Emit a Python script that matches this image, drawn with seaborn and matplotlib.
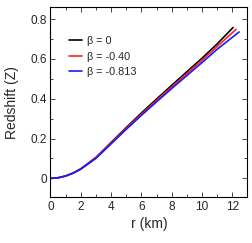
import matplotlib
matplotlib.use('Agg')
import matplotlib.pyplot as plt
import numpy as np
import pandas as pd
import seaborn as sns
from matplotlib.ticker import MultipleLocator, FuncFormatter

# valores (r em km, redshift Z)
r_b0 = [0, 0.5, 1, 1.5, 2, 3, 4, 5, 6, 7, 8, 9, 10, 11, 12.05]
z_b0 = [0, 0.003, 0.012, 0.027, 0.048, 0.105, 0.18, 0.255, 0.328, 0.398, 0.467, 0.535, 0.603, 0.675, 0.757]

r_b040 = [0, 0.5, 1, 1.5, 2, 3, 4, 5, 6, 7, 8, 9, 10, 11, 12.25]
z_b040 = [0, 0.003, 0.012, 0.027, 0.047, 0.103, 0.177, 0.251, 0.322, 0.391, 0.459, 0.526, 0.593, 0.662, 0.748]

r_b0813 = [0, 0.5, 1, 1.5, 2, 3, 4, 5, 6, 7, 8, 9, 10, 11, 12.45]
z_b0813 = [0, 0.003, 0.012, 0.026, 0.046, 0.100, 0.173, 0.246, 0.316, 0.384, 0.451, 0.516, 0.581, 0.648, 0.735]

labels = ['β = 0', 'β = -0.40', 'β = -0.813']
colors = ['black', '#ff2020', '#1a1aff']

# montar tabela longa para o seaborn
frames = []
for lab, rr, zz in zip(labels, [r_b0, r_b040, r_b0813], [z_b0, z_b040, z_b0813]):
    frames.append(pd.DataFrame({'r': rr, 'Z': zz, 'beta': lab}))
df = pd.concat(frames, ignore_index=True)

sns.set_style('ticks')
plt.rcParams['font.family'] = ['Liberation Sans', 'DejaVu Sans']

fig = plt.figure(figsize=(2.52, 2.43), dpi=100)
ax = fig.add_axes([0.2, 0.188, 0.782, 0.783])

sns.lineplot(data=df, x='r', y='Z', hue='beta', palette=colors, sort=False,
             linewidth=1.2, ax=ax, hue_order=labels)

ax.set_xlim(0, 13)
ax.set_ylim(-0.095, 0.86)
ax.xaxis.set_major_locator(MultipleLocator(2))
ax.xaxis.set_minor_locator(MultipleLocator(1))
ax.yaxis.set_major_locator(MultipleLocator(0.2))
ax.yaxis.set_minor_locator(MultipleLocator(0.1))
ax.yaxis.set_major_formatter(FuncFormatter(lambda v, p: '0' if abs(v) < 1e-9 else f'{v:.1f}'))

ax.tick_params(which='both', direction='in', top=True, right=True, labelsize=8.5, pad=2.5)
ax.tick_params(which='major', length=3.5, width=0.6)
ax.tick_params(which='minor', length=2, width=0.6)
for s in ax.spines.values():
    s.set_linewidth(0.8)
    s.set_color('black')

ax.set_xlabel('r (km)', fontsize=10, labelpad=3)
ax.set_ylabel('Redshift (Z)', fontsize=10, labelpad=8)

ax.legend(loc='upper left', frameon=False, fontsize=7.8, handlelength=1.25,
          handletextpad=0.45, labelspacing=0.5, borderaxespad=0.0,
          bbox_to_anchor=(0.07, 0.87))

fig.savefig('out.png', dpi=100)
